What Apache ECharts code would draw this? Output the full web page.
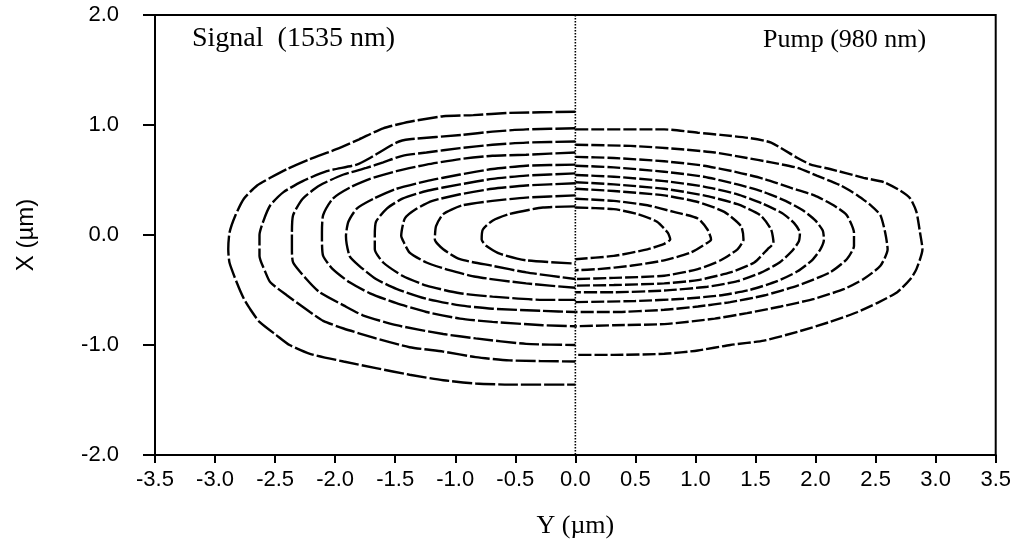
<!DOCTYPE html>
<html>
<head>
<meta charset="utf-8">
<script src="https://cdn.jsdelivr.net/npm/echarts@6/dist/echarts.min.js"></script>
<style>
  html, body { margin: 0; padding: 0; background: #fff; }
  #chart { width: 1014px; height: 544px; }
</style>
</head>
<body>
<div id="chart"></div>
<script>
// Mode intensity contours: signal (1535 nm) on the left half, pump (980 nm) on the right half.
// Each contour is a list of [Y, X] points in micrometres.

const xTicks = [-3.5, -3.0, -2.5, -2.0, -1.5, -1.0, -0.5, 0.0, 0.5, 1.0, 1.5, 2.0, 2.5, 3.0, 3.5];
const yTicks = [-2.0, -1.0, 0.0, 1.0, 2.0];

const signalLabel = 'Signal  (1535 nm)';
const pumpLabel = 'Pump (980 nm)';

// Signal contours, outermost first
const sig1 = [[0,1.12],[-0.55,1.11],[-0.85,1.09],[-1.10,1.08],[-1.38,1.03],[-1.60,0.97],[-1.80,0.87],[-1.99,0.78],[-2.21,0.69],[-2.40,0.60],[-2.54,0.52],[-2.65,0.45],[-2.76,0.33],[-2.83,0.18],[-2.88,0.02],[-2.89,-0.13],[-2.88,-0.25],[-2.82,-0.43],[-2.76,-0.58],[-2.71,-0.67],[-2.63,-0.79],[-2.49,-0.91],[-2.38,-1.00],[-2.21,-1.08],[-1.93,-1.15],[-1.66,-1.21],[-1.38,-1.27],[-1.10,-1.32],[-0.83,-1.35],[-0.55,-1.36],[0,-1.36]];
const sig2 = [[0,0.97],[-0.41,0.96],[-0.69,0.94],[-0.94,0.91],[-1.38,0.87],[-1.49,0.84],[-1.71,0.70],[-1.82,0.64],[-2.07,0.58],[-2.27,0.49],[-2.43,0.39],[-2.54,0.27],[-2.60,0.12],[-2.63,0.0],[-2.63,-0.19],[-2.58,-0.34],[-2.54,-0.43],[-2.40,-0.55],[-2.21,-0.70],[-2.10,-0.78],[-1.93,-0.85],[-1.66,-0.94],[-1.38,-1.02],[-1.10,-1.06],[-0.83,-1.11],[-0.55,-1.14],[0,-1.15]];
const sig3 = [[0,0.85],[-0.41,0.84],[-0.69,0.82],[-0.96,0.79],[-1.24,0.75],[-1.44,0.72],[-1.60,0.66],[-1.74,0.61],[-1.93,0.55],[-2.13,0.45],[-2.27,0.33],[-2.35,0.18],[-2.36,0.02],[-2.36,-0.13],[-2.35,-0.25],[-2.24,-0.40],[-2.13,-0.52],[-1.93,-0.64],[-1.77,-0.73],[-1.49,-0.82],[-1.10,-0.90],[-0.83,-0.94],[-0.41,-0.99],[0,-1.00]];
const sig4 = [[0,0.75],[-0.41,0.73],[-0.69,0.72],[-0.96,0.69],[-1.24,0.64],[-1.49,0.58],[-1.71,0.51],[-1.88,0.43],[-2.02,0.33],[-2.10,0.18],[-2.11,0.02],[-2.11,-0.04],[-2.10,-0.19],[-2.02,-0.31],[-1.88,-0.43],[-1.71,-0.53],[-1.49,-0.62],[-1.24,-0.70],[-0.96,-0.76],[-0.69,-0.79],[-0.27,-0.82],[0,-0.83]];
const sig5 = [[0,0.64],[-0.41,0.63],[-0.69,0.60],[-0.96,0.55],[-1.24,0.49],[-1.49,0.42],[-1.68,0.33],[-1.82,0.24],[-1.89,0.12],[-1.91,-0.01],[-1.88,-0.19],[-1.80,-0.28],[-1.66,-0.40],[-1.49,-0.49],[-1.24,-0.58],[-0.96,-0.64],[-0.69,-0.67],[-0.27,-0.69],[0,-0.70]];
const sig6 = [[0,0.56],[-0.41,0.54],[-0.69,0.51],[-0.96,0.46],[-1.24,0.40],[-1.44,0.33],[-1.57,0.24],[-1.66,0.12],[-1.67,-0.01],[-1.67,-0.13],[-1.60,-0.25],[-1.44,-0.37],[-1.24,-0.46],[-0.96,-0.53],[-0.69,-0.56],[-0.27,-0.59],[0,-0.59]];
const sig7 = [[0,0.47],[-0.41,0.45],[-0.69,0.42],[-0.96,0.37],[-1.19,0.31],[-1.32,0.24],[-1.42,0.15],[-1.45,-0.01],[-1.44,-0.04],[-1.38,-0.16],[-1.24,-0.25],[-1.05,-0.32],[-0.83,-0.38],[-0.41,-0.44],[0,-0.48]];
const sig8 = [[0,0.36],[-0.41,0.34],[-0.69,0.31],[-0.94,0.27],[-1.10,0.19],[-1.16,0.08],[-1.17,-0.04],[-1.10,-0.13],[-0.96,-0.22],[-0.69,-0.28],[-0.41,-0.34],[0,-0.40]];
const sig9 = [[0,0.26],[-0.27,0.25],[-0.55,0.19],[-0.69,0.13],[-0.77,0.05],[-0.78,-0.04],[-0.74,-0.10],[-0.63,-0.17],[-0.41,-0.23],[0,-0.26]];

// Pump contours, outermost first
const pump1 = [[0,0.96],[0.74,0.96],[1.02,0.93],[1.21,0.91],[1.46,0.88],[1.63,0.84],[1.85,0.70],[1.96,0.64],[2.12,0.60],[2.40,0.52],[2.57,0.48],[2.71,0.40],[2.79,0.33],[2.84,0.21],[2.87,0.02],[2.89,-0.13],[2.84,-0.31],[2.79,-0.40],[2.68,-0.52],[2.51,-0.62],[2.35,-0.70],[2.12,-0.79],[1.85,-0.88],[1.57,-0.96],[1.29,-1.00],[1.02,-1.05],[0.74,-1.08],[0.32,-1.09],[0,-1.09]];
const pump2 = [[0,0.82],[0.46,0.81],[0.88,0.78],[1.16,0.75],[1.43,0.70],[1.63,0.66],[1.85,0.61],[2.01,0.54],[2.21,0.45],[2.35,0.36],[2.46,0.27],[2.54,0.18],[2.58,0.02],[2.60,-0.13],[2.54,-0.28],[2.40,-0.40],[2.24,-0.49],[1.99,-0.58],[1.71,-0.65],[1.43,-0.71],[1.16,-0.76],[0.74,-0.81],[0.32,-0.82],[0,-0.83]];
const pump3 = [[0,0.71],[0.32,0.70],[0.74,0.67],[1.07,0.63],[1.35,0.57],[1.57,0.51],[1.79,0.43],[1.99,0.36],[2.15,0.27],[2.26,0.18],[2.32,0.02],[2.32,-0.10],[2.26,-0.22],[2.12,-0.34],[1.85,-0.46],[1.57,-0.55],[1.29,-0.61],[1.02,-0.65],[0.74,-0.68],[0.32,-0.70],[0,-0.70]];
const pump4 = [[0,0.63],[0.32,0.615],[0.74,0.575],[1.07,0.53],[1.35,0.46],[1.57,0.39],[1.75,0.31],[1.90,0.22],[2.00,0.13],[2.06,0.04],[2.07,-0.04],[2.04,-0.13],[1.97,-0.23],[1.85,-0.33],[1.68,-0.42],[1.45,-0.50],[1.20,-0.55],[0.90,-0.58],[0.50,-0.60],[0,-0.61]];
const pump5 = [[0,0.545],[0.32,0.53],[0.74,0.49],[1.07,0.44],[1.35,0.37],[1.55,0.29],[1.72,0.20],[1.82,0.11],[1.87,0.02],[1.86,-0.06],[1.80,-0.15],[1.70,-0.25],[1.55,-0.34],[1.35,-0.42],[1.10,-0.47],[0.74,-0.505],[0.32,-0.52],[0,-0.52]];
const pump6 = [[0,0.48],[0.32,0.46],[0.74,0.42],[1.07,0.36],[1.35,0.28],[1.54,0.18],[1.63,0.05],[1.65,-0.07],[1.60,-0.13],[1.49,-0.25],[1.29,-0.34],[1.02,-0.41],[0.74,-0.44],[0.32,-0.455],[0,-0.46]];
const pump7 = [[0,0.42],[0.32,0.40],[0.74,0.36],[1.02,0.30],[1.24,0.21],[1.38,0.08],[1.40,-0.04],[1.35,-0.13],[1.21,-0.23],[1.02,-0.31],[0.74,-0.37],[0.32,-0.39],[0,-0.40]];
const pump8 = [[0,0.33],[0.32,0.31],[0.60,0.27],[0.82,0.21],[1.02,0.15],[1.10,0.05],[1.13,-0.04],[1.10,-0.07],[0.96,-0.16],[0.74,-0.23],[0.46,-0.28],[0.19,-0.31],[0,-0.32]];
const pump9 = [[0,0.25],[0.32,0.235],[0.52,0.19],[0.68,0.12],[0.77,0.02],[0.79,-0.04],[0.74,-0.08],[0.60,-0.13],[0.32,-0.19],[0,-0.22]];

// Boundary between the two halves
const divider = [[0, 2.0], [0, -2.0]];

const signalSet = [sig1, sig2, sig3, sig4, sig5, sig6, sig7, sig8, sig9];
const pumpSet = [pump1, pump2, pump3, pump4, pump5, pump6, pump7, pump8, pump9];

const sans = '"Liberation Sans", Arial, sans-serif';
const serif = '"Liberation Serif", "Times New Roman", serif';

function contourSeries(data, name, dash) {
  return {
    type: 'line',
    name: name,
    data: data,
    showSymbol: false,
    symbol: 'none',
    smooth: 0.2,
    silent: true,
    animation: false,
    lineStyle: { color: '#000', width: 2.4, type: dash }
  };
}

const series = [];
signalSet.forEach((d, i) => series.push(contourSeries(d, 'signal' + (i + 1), [20, 3])));
pumpSet.forEach((d, i) => series.push(contourSeries(d, 'pump' + (i + 1), [13, 3])));
series.push({
  type: 'line',
  name: 'divider',
  data: divider,
  symbol: 'none',
  silent: true,
  animation: false,
  lineStyle: { color: '#000', width: 1.6, type: [1.5, 1.5] }
});

const chart = echarts.init(document.getElementById('chart'), null, { renderer: 'canvas' });
chart.setOption({
  backgroundColor: '#fff',
  animation: false,
  grid: {
    left: 155, right: 17, top: 15, bottom: 87,
    show: true, borderColor: '#000', borderWidth: 2, backgroundColor: 'transparent'
  },
  xAxis: {
    type: 'value',
    min: xTicks[0], max: xTicks[xTicks.length - 1], interval: 0.5,
    name: 'Y (\u00b5m)',
    nameLocation: 'middle',
    nameGap: 58,
    nameTextStyle: { fontFamily: serif, fontSize: 26, color: '#000' },
    axisLine: { show: true, onZero: false, lineStyle: { color: '#000', width: 2 } },
    axisTick: { show: true, inside: false, length: 8, lineStyle: { color: '#000', width: 2 } },
    axisLabel: {
      margin: 14, color: '#000', fontFamily: sans, fontSize: 22,
      formatter: v => v.toFixed(1)
    },
    splitLine: { show: false }
  },
  yAxis: {
    type: 'value',
    min: yTicks[0], max: yTicks[yTicks.length - 1], interval: 1,
    name: 'X (\u00b5m)',
    nameLocation: 'middle',
    nameGap: 117,
    nameRotate: 90,
    nameTextStyle: { fontFamily: sans, fontSize: 24, color: '#000' },
    axisLine: { show: true, onZero: false, lineStyle: { color: '#000', width: 2 } },
    axisTick: { show: true, inside: false, length: 12, lineStyle: { color: '#000', width: 2 } },
    axisLabel: {
      margin: 36, color: '#000', fontFamily: sans, fontSize: 22,
      formatter: v => v.toFixed(1)
    },
    splitLine: { show: false }
  },
  graphic: [
    {
      type: 'text', left: 192, top: 25, silent: true,
      style: { text: signalLabel, font: '28px ' + serif, fill: '#000' }
    },
    {
      type: 'text', left: 763, top: 27, silent: true,
      style: { text: pumpLabel, font: '26px ' + serif, fill: '#000' }
    }
  ],
  series: series
});
</script>
</body>
</html>
